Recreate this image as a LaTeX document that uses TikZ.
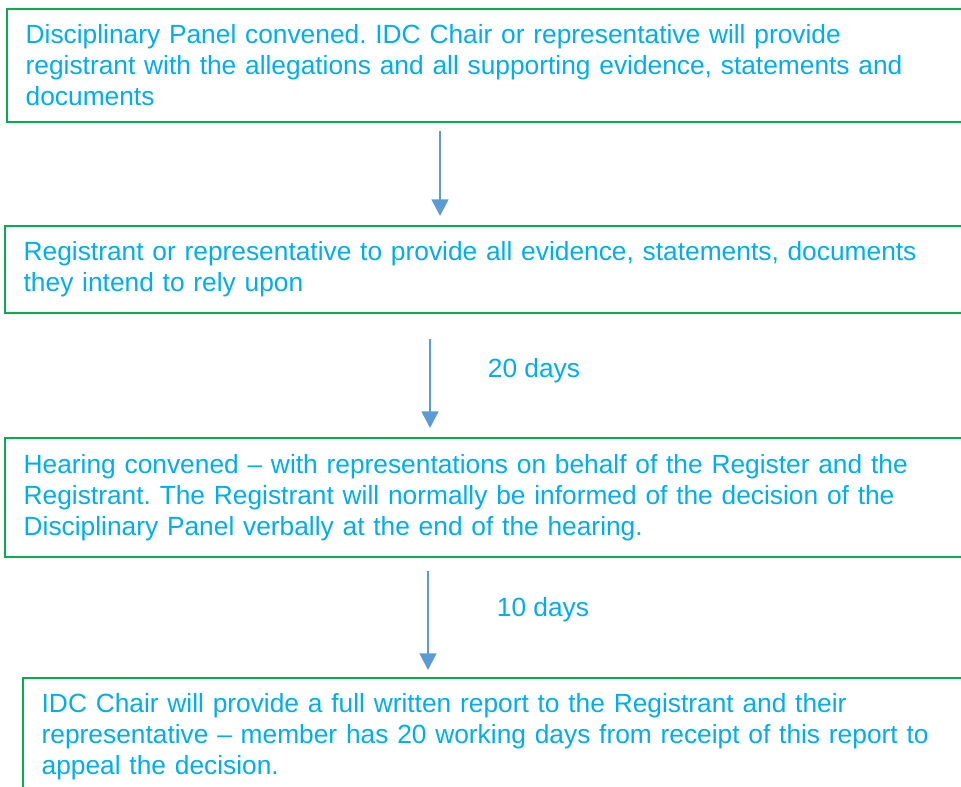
\documentclass[tikz,border=0pt]{standalone}
\usepackage{fontspec}
\setmainfont{Liberation Sans}
\usetikzlibrary{arrows.meta,calc}

\definecolor{stagegreen}{HTML}{00B050}
\definecolor{stagetext}{HTML}{00ADEF}
\definecolor{flowblue}{HTML}{5B9BD5}

\tikzset{
  stage/.style={draw=stagegreen, line width=1.5pt, text=stagetext, anchor=north west,
    align=left, text width=720pt, inner xsep=14pt, inner ysep=0pt,
    font=\fontsize{19.75pt}{23.25pt}\selectfont},
  flow/.style={flowblue, line width=2pt, -{Triangle[width=12.5pt,length=12.5pt]}},
  gap/.style={text=stagetext, font=\fontsize{19.75pt}{23.25pt}\selectfont}
}

\frenchspacing
\begin{document}
\begin{tikzpicture}[x=0.75pt, y=-0.75pt]
\useasboundingbox (0,0) rectangle (961,787);
\clip (0,0) rectangle (961,787);

% Create stages
\node[stage, minimum height=84.75pt] at (6,8) (convene) {Disciplinary Panel convened. IDC Chair or representative will provide\\ registrant with the allegations and all supporting evidence, statements and\\ documents};
\node[stage, minimum height=65.25pt] at (4,225) (evidence) {Registrant or representative to provide all evidence, statements, documents\\ they intend to rely upon};
\node[stage, minimum height=89.25pt] at (4,437) (hearing) {Hearing convened – with representations on behalf of the Register and the\\ Registrant. The Registrant will normally be informed of the decision of the\\ Disciplinary Panel verbally at the end of the hearing.};
\node[stage, minimum height=88.5pt] at (22,677) (report) {IDC Chair will provide a full written report to the Registrant and their\\ representative – member has 20 working days from receipt of this report to\\ appeal the decision.};

% Connect stages
\draw[flow, shorten <=6pt, shorten >=6.75pt] ($(convene.south west)+(434,0)$) -- ($(evidence.north west)+(436,0)$);
\draw[flow, shorten <=18.75pt, shorten >=6.75pt] ($(evidence.south west)+(426,0)$) -- ($(hearing.north west)+(426,0)$);
\draw[flow, shorten <=9.75pt, shorten >=5.25pt] ($(hearing.south west)+(424,0)$) -- ($(report.north west)+(406,0)$);

% Label time limits
\node[gap] at (534,371) (twenty) {20 days};
\node[gap] at (543,610) (ten) {10 days};

\end{tikzpicture}
\end{document}
